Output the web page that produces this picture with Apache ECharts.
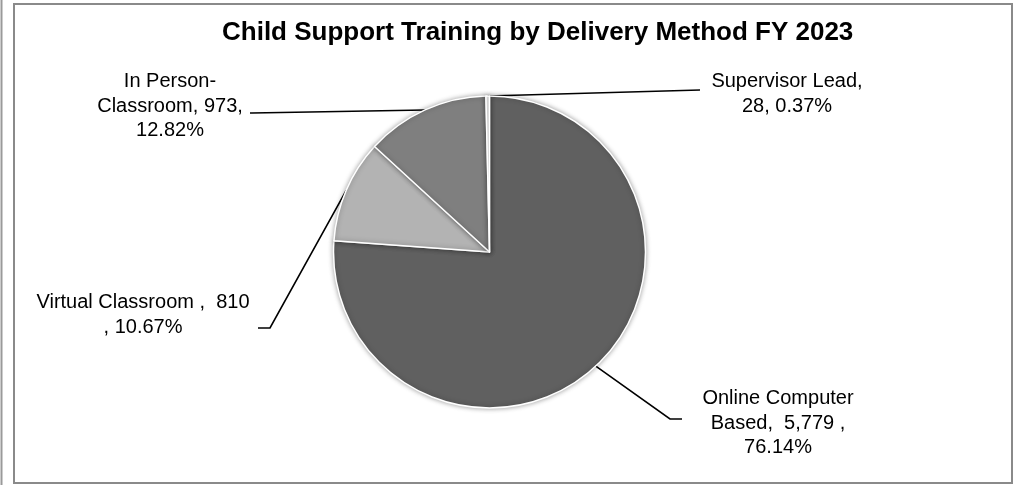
<!DOCTYPE html>
<html>
<head>
<meta charset="utf-8">
<title>Child Support Training by Delivery Method FY 2023</title>
<script src="https://cdn.jsdelivr.net/npm/echarts@6/dist/echarts.min.js"></script>
<style>
  html, body { margin: 0; padding: 0; background: #fff; }
  #chart { width: 1019px; height: 485px; }
</style>
</head>
<body>
<div id="chart"></div>
<script>
// data
const categories = ['Online Computer Based', 'Virtual Classroom', 'In Person-Classroom', 'Supervisor Lead'];
const trainees = [5779, 810, 973, 28];
const sliceColors = ['#606060', '#b3b3b3', '#7f7f7f', '#efefef'];
// how excel wrapped each data label
const labelFormats = [
    'Online Computer\nBased,  {v} ,\n{p}%',
    'Virtual Classroom ,  {v}\n, {p}%',
    'In Person-\nClassroom, {v},\n{p}%',
    'Supervisor Lead,\n{v}, {p}%'
];

// label placement (px) and leader line bends
const labelPos = [[778, 423], [143, 315], [170, 106], [787, 94]];
const leaderBend = [[670, 419], [270, 328], [252, 113], [700, 90]];
const leaderEnd = [[682, 419], [258, 328], [250, 113], [700, 90]];

const chart = echarts.init(document.getElementById('chart'), null, { renderer: 'canvas' });

const option = {
    animation: false,
    backgroundColor: '#ffffff',
    title: {
        text: 'Child Support Training by Delivery Method FY 2023',
        left: 222,
        top: 20,
        padding: 0,
        textStyle: {
            fontFamily: 'Liberation Sans, Arial, sans-serif',
            fontSize: 26,
            fontWeight: 'bold',
            color: '#000'
        }
    },
    graphic: [
        {
            type: 'rect',
            shape: { x: 14, y: 4, width: 998, height: 479 },
            style: { fill: 'none', stroke: '#8a8a8a', lineWidth: 2 },
            silent: true
        },
        {
            type: 'line',
            shape: { x1: 1.5, y1: 0, x2: 1.5, y2: 485 },
            style: { stroke: '#9a9a9a', lineWidth: 2 },
            silent: true
        }
    ],
    series: [{
        type: 'pie',
        center: [489.5, 252],
        radius: 156,
        startAngle: 90,
        clockwise: true,
        percentPrecision: 2,
        avoidLabelOverlap: false,
        data: categories.map((name, i) => ({
            name: name,
            value: trainees[i],
            itemStyle: { color: sliceColors[i] }
        })),
        itemStyle: {
            borderColor: '#ffffff',
            borderWidth: 1.5,
            shadowBlur: 5,
            shadowColor: 'rgba(0,0,0,0.35)'
        },
        label: {
            show: true,
            position: 'outside',
            color: '#000',
            fontFamily: 'Liberation Sans, Arial, sans-serif',
            fontSize: 20,
            lineHeight: 24.5,
            align: 'center',
            formatter: function (p) {
                return labelFormats[p.dataIndex]
                    .replace('{v}', p.value.toLocaleString('en-US'))
                    .replace('{p}', p.percent.toFixed(2));
            }
        },
        labelLine: {
            show: true,
            lineStyle: { color: '#000', width: 1.6 }
        },
        labelLayout: function (params) {
            const i = params.dataIndex;
            const start = params.labelLinePoints ? params.labelLinePoints[0] : leaderBend[i];
            return {
                x: labelPos[i][0],
                y: labelPos[i][1],
                align: 'center',
                verticalAlign: 'middle',
                labelLinePoints: [start, leaderBend[i], leaderEnd[i]]
            };
        },
        emphasis: { disabled: true }
    }]
};

chart.setOption(option);
window.addEventListener('resize', () => chart.resize());
</script>
</body>
</html>
